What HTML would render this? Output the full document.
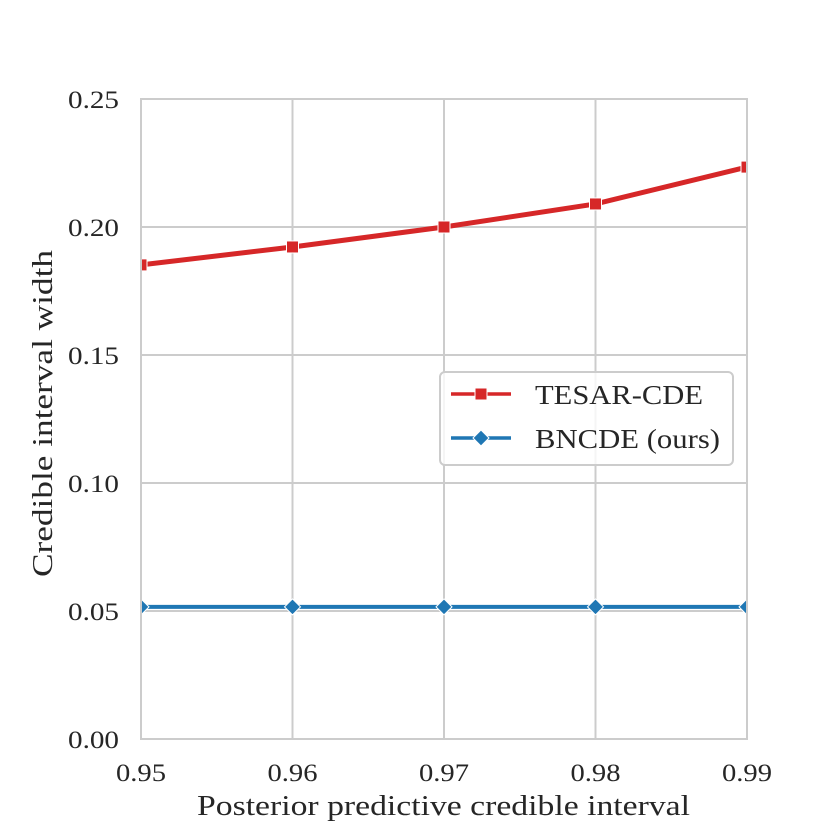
<!DOCTYPE html>
<html><head><meta charset="utf-8"><style>
body{margin:0;background:#fff}
svg text{font-family:"Liberation Serif",serif;fill:#262626}
</style></head><body>
<svg id="chart" width="830" height="830" xmlns="http://www.w3.org/2000/svg">
<defs><clipPath id="clip"><rect x="141" y="99" width="606" height="640"/></clipPath></defs>
<g id="grid"></g>
<g id="series" clip-path="url(#clip)"></g>
<rect x="141" y="99" width="606" height="640" fill="none" stroke="#cccccc" stroke-width="2"/>
<g id="ticks"></g>
<text x="197" y="815" font-size="29" textLength="493" lengthAdjust="spacingAndGlyphs">Posterior predictive credible interval</text>
<text transform="translate(52,577) rotate(-90)" font-size="29" textLength="327" lengthAdjust="spacingAndGlyphs">Credible interval width</text>
<g>
<rect x="440" y="372" width="293" height="93" rx="5" fill="#fff" fill-opacity="0.8" stroke="#cccccc" stroke-width="2"/>
<g>
<line x1="451" y1="394" x2="511" y2="394" stroke="#d62728" stroke-width="3.5"/>
<rect x="475" y="388" width="12" height="12" fill="#d62728" stroke="#fff" stroke-width="1"/>
<text x="535" y="404" font-size="27" textLength="168" lengthAdjust="spacingAndGlyphs">TESAR-CDE</text></g>
<g>
<line x1="451" y1="438" x2="511" y2="438" stroke="#1f77b4" stroke-width="3.5"/>
<polygon points="481,430 489,438 481,446 473,438" fill="#1f77b4" stroke="#fff" stroke-width="1"/>
<text x="535" y="448" font-size="27" textLength="185" lengthAdjust="spacingAndGlyphs">BNCDE (ours)</text></g>
</g>
</svg>
<script>
const categories=[0.95,0.96,0.97,0.98,0.99];
const tesarValues=[0.1852,0.1922,0.2000,0.2090,0.2234];
const bncdeValues=[0.0516,0.0516,0.0516,0.0516,0.0516];
const yTicks=[0,0.05,0.10,0.15,0.20,0.25];
const yTickLabels=["0.00","0.05","0.10","0.15","0.20","0.25"];
const xTickLabels=["0.95","0.96","0.97","0.98","0.99"];
const NS="http://www.w3.org/2000/svg";
const x=v=>141+(v-0.95)/0.04*606;
const y=v=>739-v/0.25*640;
function mk(t,a,p){const e=document.createElementNS(NS,t);for(const k in a)e.setAttribute(k,a[k]);p.appendChild(e);return e;}
const grid=document.getElementById('grid'),ticks=document.getElementById('ticks'),series=document.getElementById('series');
yTicks.forEach((v,i)=>{
 const l=mk('line',{x1:141,x2:747,y1:y(v),y2:y(v),stroke:'#cccccc','stroke-width':2},grid);
 
 
 const t=mk('text',{x:119,y:y(v)+9,'font-size':25,'text-anchor':'end',textLength:51,lengthAdjust:'spacingAndGlyphs'},ticks);t.textContent=yTickLabels[i];
 
 
});
categories.forEach((c,i)=>{
 const t=mk('text',{x:x(c)-25,y:781,'font-size':25,textLength:50,lengthAdjust:'spacingAndGlyphs'},ticks);t.textContent=xTickLabels[i];
 
 
 const l=mk('line',{x1:x(c),x2:x(c),y1:99,y2:739,stroke:'#cccccc','stroke-width':2},grid);
 
 
});
const pl1=mk('polyline',{points:categories.map((c,i)=>x(c)+','+y(tesarValues[i])).join(' '),fill:'none',stroke:'#d62728','stroke-width':5},series);


const pl2=mk('polyline',{points:categories.map((c,i)=>x(c)+','+y(bncdeValues[i])).join(' '),fill:'none',stroke:'#1f77b4','stroke-width':4},series);


categories.forEach((c,i)=>{
 const r=mk('rect',{x:x(c)-6,y:y(tesarValues[i])-6,width:12,height:12,fill:'#d62728',stroke:'#fff','stroke-width':1},series);
 
 
 const cx=x(c),cy=y(bncdeValues[i]);
 const p=mk('polygon',{points:`${cx},${cy-8} ${cx+8},${cy} ${cx},${cy+8} ${cx-8},${cy}`,fill:'#1f77b4',stroke:'#fff','stroke-width':1},series);
 
 
});
</script>
</body></html>
